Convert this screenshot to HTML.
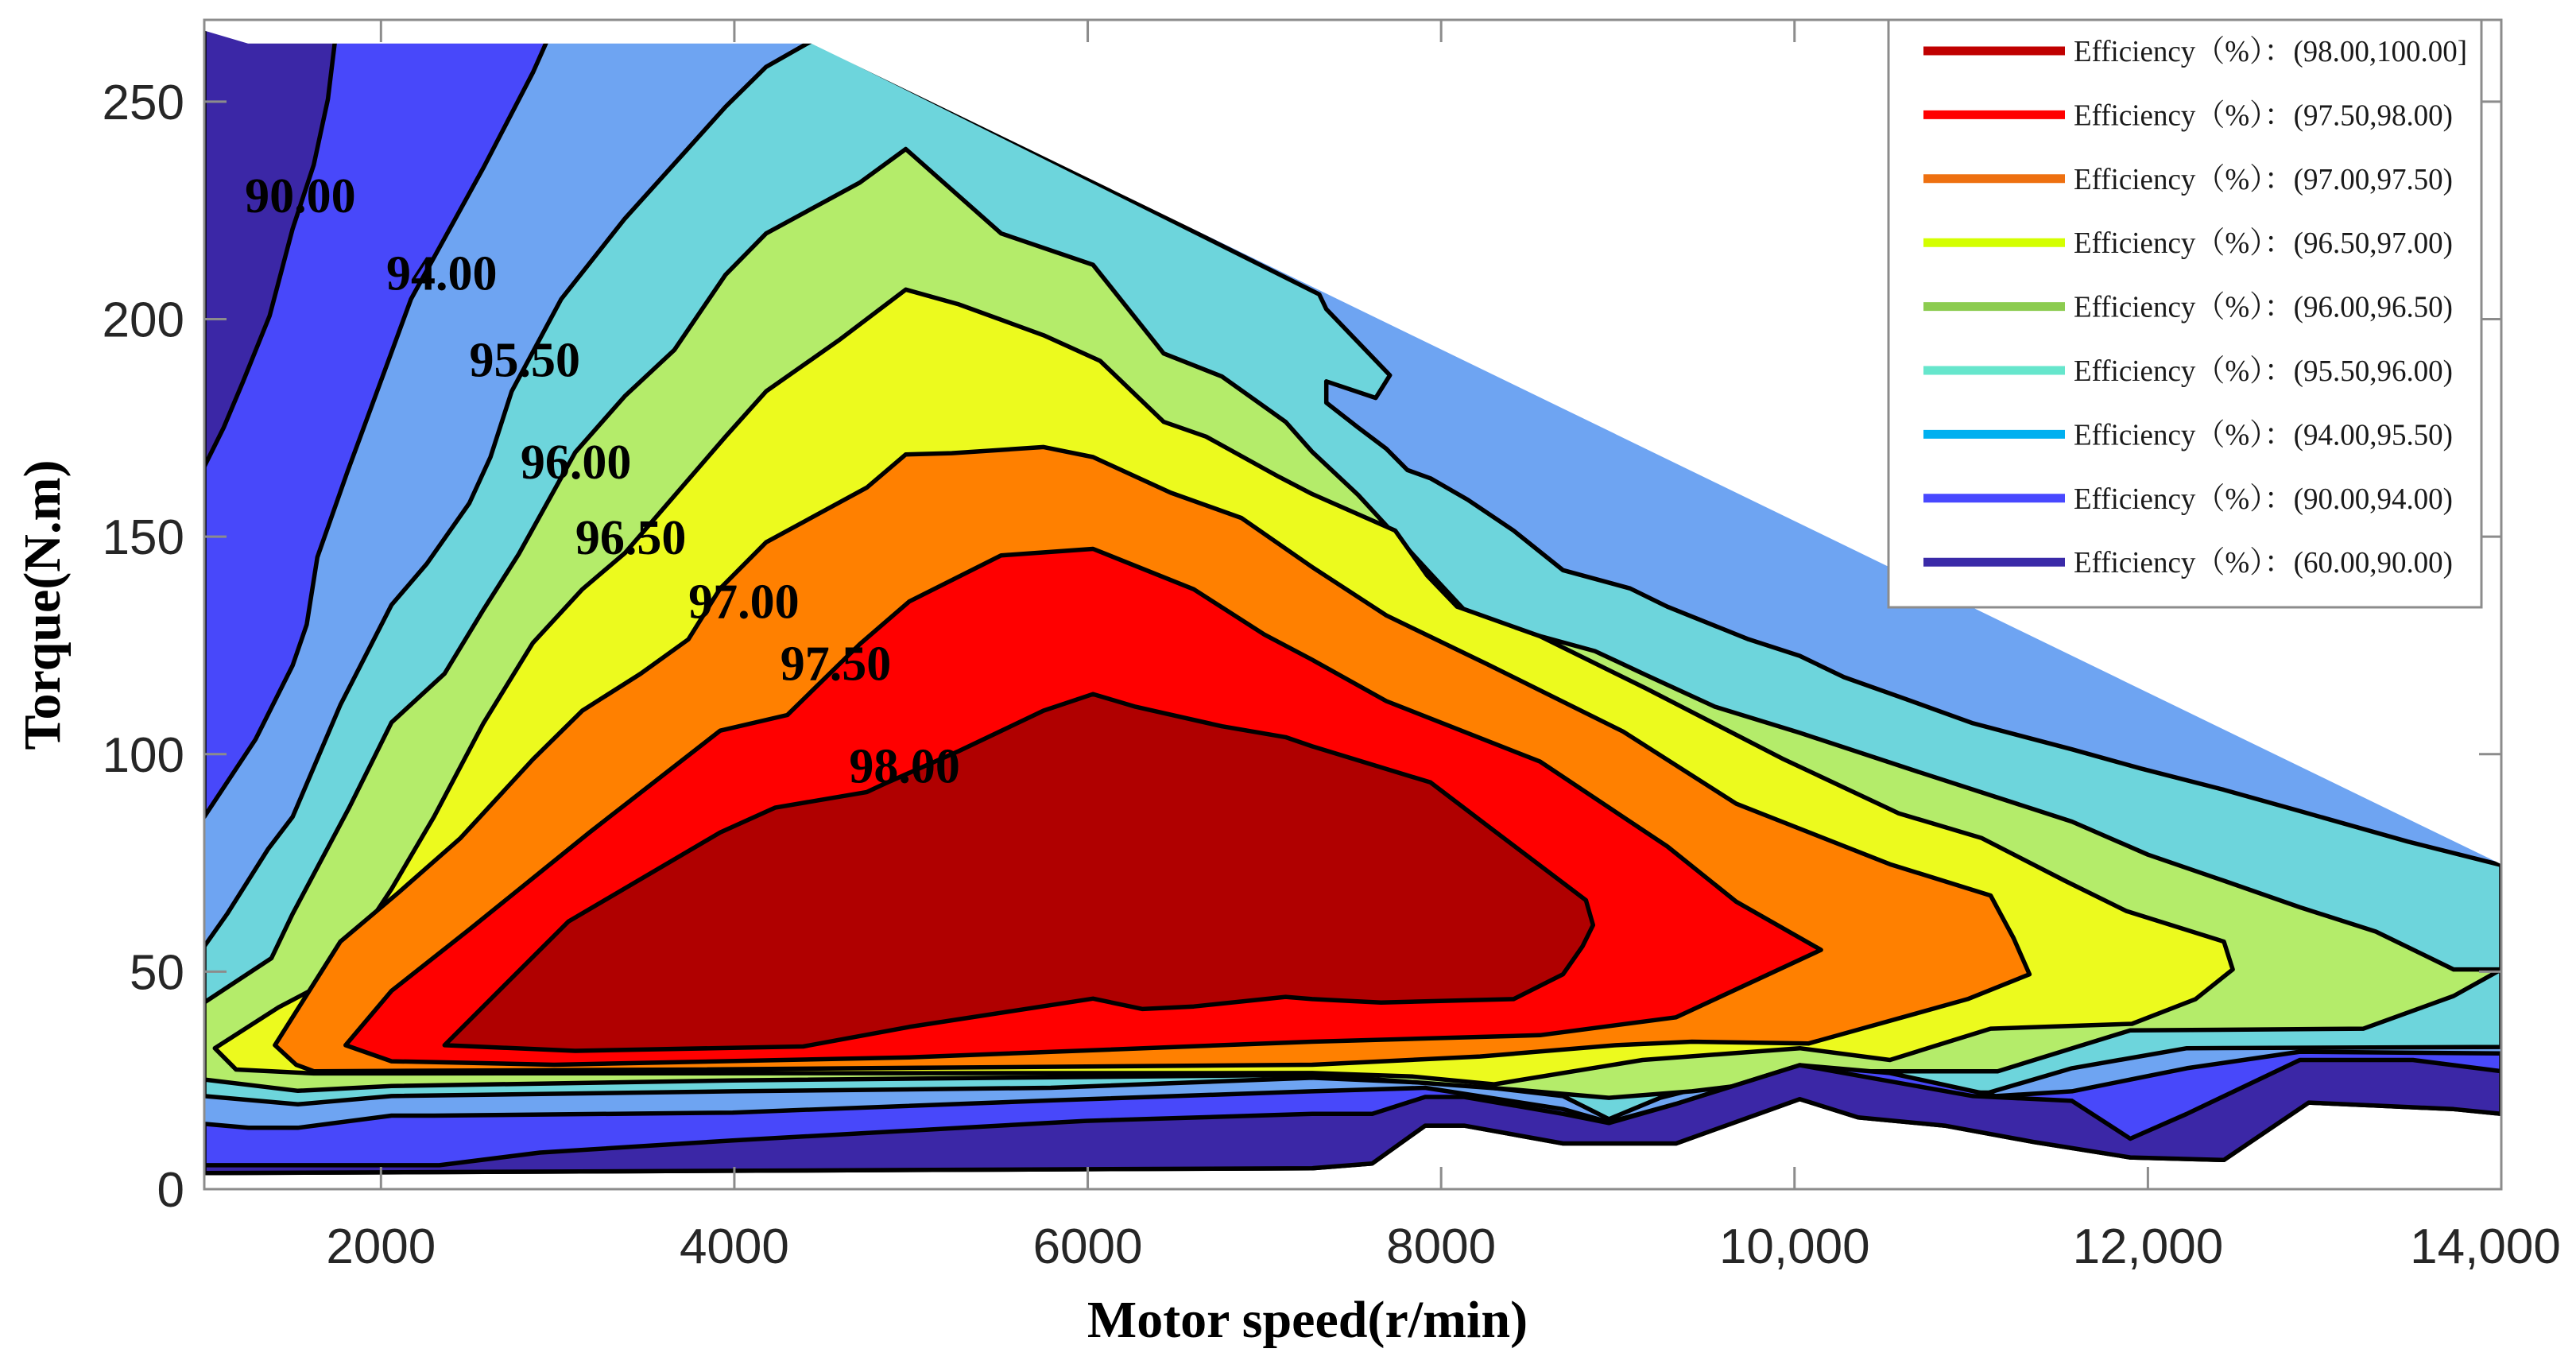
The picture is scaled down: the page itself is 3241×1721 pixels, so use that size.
<!DOCTYPE html>
<html><head><meta charset="utf-8"><style>
html,body{margin:0;padding:0;background:#fff;}
svg{display:block;}
</style></head><body>
<svg id="chart" width="3241" height="1721" viewBox="0 0 3241 1721" xmlns="http://www.w3.org/2000/svg">
<defs><clipPath id="plotclip"><rect x="257" y="25" width="2890" height="1471"/></clipPath></defs>
<g id="fills" clip-path="url(#plotclip)"></g>
<g id="axes"></g>
<g id="legend"></g>
</svg>
<script>
// ---- data (rpm, torque N.m) ----
const xTicks = [2000, 4000, 6000, 8000, 10000, 12000, 14000];
const xTickLabels = ["2000", "4000", "6000", "8000", "10,000", "12,000", "14,000"];
const yTicks = [0, 50, 100, 150, 200, 250];
const yTickLabels = ["0", "50", "100", "150", "200", "250"];

const envelopeTop = [[1000,267],[1250,264],[4440,264],[14000,75.4]];
const envelopeBottom = [[14000,17.3],[13730,18.4],[13290,19.2],[12910,19.9],[12430,6.7],[11900,7.3],[11360,10.8],[10850,14.6],[10360,16.5],[10030,20.7],[9330,10.5],[8690,10.5],[8130,14.6],[7910,14.6],[7610,5.9],[7270,4.8],[1000,3.7]];

const region955 = [[1000,55.8],[1130,63.3],[1360,78.1],[1500,85.6],[1770,111.3],[2060,134.3],[2260,143.8],[2500,157.7],[2620,168.3],[2740,183.4],[3020,204.6],[3380,223.1],[3740,239.3],[3950,248.8],[4180,258],[4440,264],[7310,205.7],[7350,202.3],[7710,187.1],[7630,181.9],[7350,185.7],[7350,180.8],[7530,175.1],[7690,170.2],[7810,165.3],[7940,163.4],[8150,158.5],[8410,151.4],[8690,142.3],[9070,138.1],[9280,133.9],[9740,126.4],[10030,122.6],[10280,117.7],[10620,112.8],[11010,107.1],[11570,101.1],[11960,96.7],[12430,91.8],[12860,86.9],[13470,79.9],[14000,74.5],[14000,32.7],[12220,32.4],[11570,27.8],[11100,22.2],[10710,22.2],[10030,29.0],[9240,21.0],[8950,16.1],[8690,21.4],[8120,24.1],[7270,25.6],[5790,23.3],[3990,22.5],[2060,21.4],[1530,19.5],[1000,21.4]];
const region96 = [[1000,42.9],[1380,53.1],[1500,63.3],[1820,87.7],[2060,107.3],[2360,118.5],[2580,133.2],[2780,146.0],[3100,169.4],[3380,182.3],[3660,192.9],[3950,210.2],[4180,219.7],[4710,231.4],[4970,239.1],[5510,219.7],[6030,212.5],[6430,192.1],[6760,186.8],[7120,176.4],[7270,169.5],[7530,159.6],[7940,141.5],[8130,133.2],[8410,128.8],[8870,123.7],[9160,118.2],[9550,110.9],[10030,104.9],[10710,95.8],[11570,84.5],[12000,76.9],[12430,70.9],[12860,64.8],[13290,59.2],[13730,50.5],[14000,50.5],[13730,44.4],[13220,36.9],[11900,36.5],[11150,27.1],[10350,27.1],[9420,22.5],[8950,21.0],[8410,22.9],[7270,26.3],[3990,25.0],[2060,23.7],[1530,22.6],[1000,25.2]];
const region965 = [[1060,32.4],[1420,41.8],[1720,48.2],[2060,69.0],[2300,85.6],[2580,107.1],[2860,125.6],[3140,137.9],[3380,146.2],[3950,173.0],[4180,183.4],[4590,195.1],[4970,206.8],[5270,203.4],[5750,196.3],[6070,190.4],[6430,176.4],[6670,173.0],[7080,163.8],[7270,159.8],[7740,151.4],[7920,141.1],[8090,133.9],[8560,127.1],[9160,115.1],[9930,99.0],[10590,86.4],[11060,80.7],[11530,70.9],[11880,63.9],[12430,56.9],[12480,50.5],[12270,43.7],[11910,38.0],[11110,36.9],[10540,29.7],[10030,32.4],[9140,29.7],[8300,24.1],[7840,25.9],[7270,26.7],[1620,26.6],[1180,27.5]];
const region97 = [[1400,33.1],[1770,56.9],[2100,68.2],[2450,80.7],[2860,98.8],[3140,110.0],[3470,118.5],[3740,126.4],[3920,138.1],[4180,148.7],[4750,161.3],[4970,168.9],[5230,169.2],[5750,170.6],[6030,168.3],[6470,160.1],[6870,154.3],[7270,143.0],[7690,131.9],[8260,120.7],[9030,105.2],[9670,88.6],[10540,74.7],[11110,67.5],[11240,57.7],[11330,49.4],[10980,43.7],[10080,33.5],[9420,33.9],[8990,33.1],[8220,30.5],[7270,28.6],[3780,27.5],[1620,27.1],[1520,28.6]];
const region975 = [[1800,33.1],[2060,45.6],[2500,59.7],[3180,82.0],[3920,105.4],[4300,109.0],[4710,125.3],[4990,135.1],[5510,145.7],[6030,147.2],[6600,137.9],[7000,127.5],[7270,121.7],[7690,112.2],[8560,98.3],[9280,78.8],[9670,66.1],[10150,55.0],[9330,39.5],[8560,35.4],[7270,33.9],[4990,30.3],[2980,28.6],[2060,29.4]];
const region98 = [[2360,33.1],[3060,61.5],[3920,82.0],[4230,87.7],[4750,91.3],[4850,93.2],[5270,100.7],[5750,110.0],[6030,113.8],[6270,110.9],[6760,106.4],[7120,103.9],[7270,101.8],[7940,93.5],[8280,83.0],[8820,66.4],[8860,60.7],[8800,55.8],[8690,49.4],[8410,43.7],[7660,42.9],[7270,43.7],[7120,44.2],[6600,42.0],[6310,41.4],[6030,43.8],[4990,37.3],[4390,32.8],[3100,31.8]];
const region94Left = [[1000,267],[1250,264],[2940,264],[2860,256.7],[2580,234.8],[2170,204.6],[2040,190.2],[1810,164.9],[1640,145.3],[1580,129.8],[1500,120.4],[1290,103.4],[1000,85.6]];
const line94Bottom = [[1000,15.0],[1250,14.1],[1530,14.1],[2060,16.9],[2300,16.9],[3990,17.6],[5790,20.4],[7270,22.5],[7910,23.3],[8690,18.4],[8950,15.4],[9330,19.6],[10030,28.5],[10540,26.7],[11140,21.4],[11570,22.5],[12220,27.8],[12860,31.6],[14000,31.2]];
const region90Left = [[1000,267],[1250,264],[1740,264],[1700,250.6],[1620,235.5],[1500,220.8],[1370,200.8],[1220,185.7],[1110,175.1],[1000,166.1]];
const line90Bottom = [[1000,5.5],[2330,5.5],[2900,8.4],[3990,11.2],[5990,15.7],[7270,17.3],[7610,17.3],[7910,21.2],[8130,21.2],[8690,17.3],[8950,15.2],[9330,19.6],[10030,28.5],[10540,24.8],[11010,21.4],[11570,20.3],[11900,11.6],[12220,17.3],[12860,29.7],[13500,29.7],[14000,27.1]];

const labelTexts = ["90.00","94.00","95.50","96.00","96.50","97.00","97.50","98.00"];
const labelRpm = [1230, 2030, 2500, 2790, 3100, 3740, 4260, 4650];
const labelTorque = [224.6, 206.8, 186.8, 163.4, 146.0, 131.3, 117.0, 93.5];

const legendLabels = ["Efficiency（%）：(98.00,100.00]","Efficiency（%）：(97.50,98.00)","Efficiency（%）：(97.00,97.50)","Efficiency（%）：(96.50,97.00)","Efficiency（%）：(96.00,96.50)","Efficiency（%）：(95.50,96.00)","Efficiency（%）：(94.00,95.50)","Efficiency（%）：(90.00,94.00)","Efficiency（%）：(60.00,90.00)"];
const legendColors = ["#c00000","#ff0000","#ee7010","#d4ff00","#8ccc50","#66e6cc","#00b0f0","#4848ff","#3a2aa8"];

// ---- axis functions ----
const X0 = 257, X1 = 3147, Y0 = 1496, Y1 = 25;
const xMin = 1000, xMax = 14000, yMin = 0, yMax = 268.8;
function xs(v){ return X0 + (v - xMin) / (xMax - xMin) * (X1 - X0); }
function ys(v){ return Y0 - (v - yMin) / (yMax - yMin) * (Y0 - Y1); }
const NS = "http://www.w3.org/2000/svg";
function mk(tag, parent){ const e = document.createElementNS(NS, tag); parent.appendChild(e); return e; }
function pts(arr){ return arr.map(p => xs(p[0]).toFixed(1) + "," + ys(p[1]).toFixed(1)).join(" "); }

const fills = document.getElementById("fills");
function poly(arr, fill, stroke, name){
  const p = mk("polygon", fills);
  p.setAttribute("points", pts(arr));
  p.setAttribute("fill", fill);
  p.setAttribute("stroke", stroke ? "#000" : "none");
  p.setAttribute("stroke-width", "5.5");
  p.setAttribute("stroke-linejoin", "round");
  
  
  return p;
}
const envelope = envelopeTop.concat(envelopeBottom);
poly(envelope, "#6ea4f2", false, "region-94-95.5");
poly(region955, "#6dd5dc", true, "region-95.5-96");
poly(region96, "#b4ec6a", true, "region-96-96.5");
poly(region965, "#ecfa1e", true, "region-96.5-97");
poly(region97, "#ff8000", true, "region-97-97.5");
poly(region975, "#ff0000", true, "region-97.5-98");
poly(region98, "#b00000", true, "region-98-100");
poly(region94Left, "#4848fa", true, "region-90-94-left");
poly(line94Bottom.concat(envelopeBottom), "#4848fa", true, "region-90-94-bottom");
poly(region90Left, "#3b27a6", true, "region-60-90-left");
poly(line90Bottom.concat(envelopeBottom), "#3b27a6", true, "region-60-90-bottom");
// white mask above the operating envelope (covers edge strokes)
const mask = poly([[1000,275],[14000,275]].concat(envelopeTop.slice().reverse()), "#fff", false, "envelope-mask");
mask.setAttribute("stroke", "#fff");
mask.setAttribute("stroke-width", "7");

for (let i = 0; i < labelTexts.length; i++) {
  const t = mk("text", fills);
  t.setAttribute("x", xs(labelRpm[i]));
  t.setAttribute("y", ys(labelTorque[i]));
  t.setAttribute("font-family", "Liberation Serif, serif");
  t.setAttribute("font-weight", "bold");
  t.setAttribute("font-size", "62");
  t.setAttribute("fill", "#000");
  t.textContent = labelTexts[i];
  
  
}

// ---- axes ----
const axes = document.getElementById("axes");
const frame = mk("rect", axes);
frame.setAttribute("x", X0); frame.setAttribute("y", Y1);
frame.setAttribute("width", X1 - X0); frame.setAttribute("height", Y0 - Y1);
frame.setAttribute("fill", "none"); frame.setAttribute("stroke", "#8c8c8c"); frame.setAttribute("stroke-width", "3");



for (let i = 0; i < xTicks.length; i++) {
  const x = xs(xTicks[i]);
  [[Y0, Y0 - 28], [Y1, Y1 + 28]].forEach(function(s){
    const l = mk("line", axes);
    l.setAttribute("x1", x); l.setAttribute("x2", x); l.setAttribute("y1", s[0]); l.setAttribute("y2", s[1]);
    l.setAttribute("stroke", "#8c8c8c"); l.setAttribute("stroke-width", "3");
    
    
  });
  const t = mk("text", axes);
  t.setAttribute("x", i === xTicks.length - 1 ? x - 20 : x);
  t.setAttribute("y", 1589);
  t.setAttribute("text-anchor", "middle");
  t.setAttribute("font-family", "Liberation Sans, sans-serif");
  t.setAttribute("font-size", "62");
  t.setAttribute("fill", "#262626");
  t.textContent = xTickLabels[i];
  
  
}
for (let i = 0; i < yTicks.length; i++) {
  const y = ys(yTicks[i]);
  [[X0, X0 + 28], [X1, X1 - 28]].forEach(function(s){
    const l = mk("line", axes);
    l.setAttribute("x1", s[0]); l.setAttribute("x2", s[1]); l.setAttribute("y1", y); l.setAttribute("y2", y);
    l.setAttribute("stroke", "#8c8c8c"); l.setAttribute("stroke-width", "3");
    
    
  });
  const t = mk("text", axes);
  t.setAttribute("x", 232);
  t.setAttribute("y", y + 22);
  t.setAttribute("text-anchor", "end");
  t.setAttribute("font-family", "Liberation Sans, sans-serif");
  t.setAttribute("font-size", "62");
  t.setAttribute("fill", "#262626");
  t.textContent = yTickLabels[i];
  
  
}
const xt = mk("text", axes);
xt.setAttribute("x", 1645); xt.setAttribute("y", 1682);
xt.setAttribute("text-anchor", "middle");
xt.setAttribute("font-family", "Liberation Serif, serif");
xt.setAttribute("font-weight", "bold"); xt.setAttribute("font-size", "66");
xt.textContent = "Motor speed(r/min)";


const yt = mk("text", axes);
yt.setAttribute("transform", "translate(75,761) rotate(-90)");
yt.setAttribute("text-anchor", "middle");
yt.setAttribute("font-family", "Liberation Serif, serif");
yt.setAttribute("font-weight", "bold"); yt.setAttribute("font-size", "66");
yt.textContent = "Torque(N.m)";



// ---- legend ----
const lg = document.getElementById("legend");
const box = mk("rect", lg);
box.setAttribute("x", 2376); box.setAttribute("y", 25); box.setAttribute("width", 746); box.setAttribute("height", 739);
box.setAttribute("fill", "#fff"); box.setAttribute("stroke", "#8c8c8c"); box.setAttribute("stroke-width", "3");


for (let i = 0; i < legendLabels.length; i++) {
  const cy = 64 + i * 80.4;
  const l = mk("line", lg);
  l.setAttribute("x1", 2420); l.setAttribute("x2", 2598); l.setAttribute("y1", cy); l.setAttribute("y2", cy);
  l.setAttribute("stroke", legendColors[i]); l.setAttribute("stroke-width", "11");
  
  
  const t = mk("text", lg);
  t.setAttribute("x", 2609); t.setAttribute("y", cy + 13);
  t.setAttribute("font-family", "Liberation Serif, Noto Serif CJK SC, serif");
  t.setAttribute("font-size", "38");
  t.setAttribute("fill", "#1a1a1a");
  t.setAttribute("textLength", i === 0 ? 495 : 477);
  t.setAttribute("lengthAdjust", "spacingAndGlyphs");
  t.textContent = legendLabels[i];
  
  
}
</script>
</body></html>
